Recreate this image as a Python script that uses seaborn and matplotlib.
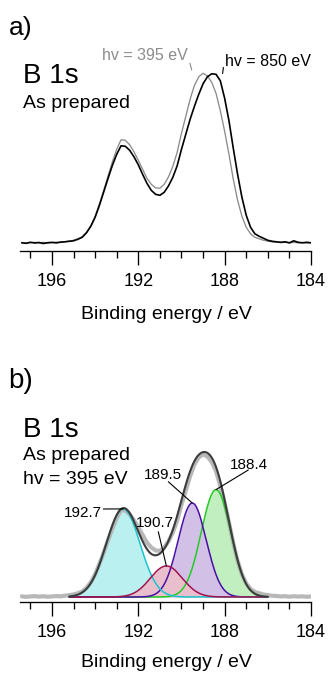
import numpy as np
import pandas as pd
import matplotlib
matplotlib.use("Agg")
import matplotlib.pyplot as plt
from matplotlib.lines import Line2D
from matplotlib.ticker import FixedLocator, MultipleLocator
import seaborn as sns

# Binding-energy grid of the measured B 1s spectra (eV)
binding_energy = [
    197.4, 197.2, 197.0, 196.8, 196.6, 196.4, 196.2, 196.0,
    195.8, 195.6, 195.4, 195.2, 195.0,
    194.8, 194.6, 194.4, 194.2, 194.0,
    193.8, 193.6, 193.4, 193.2, 193.0,
    192.8, 192.6, 192.4, 192.2, 192.0,
    191.8, 191.6, 191.4, 191.2, 191.0,
    190.8, 190.6, 190.4, 190.2, 190.0,
    189.8, 189.6, 189.4, 189.2, 189.0,
    188.8, 188.6, 188.4, 188.2, 188.0,
    187.8, 187.6, 187.4, 187.2, 187.0,
    186.8, 186.6, 186.4, 186.2, 186.0,
    185.8, 185.6, 185.4, 185.2, 185.0,
    184.8, 184.6, 184.4, 184.2, 184.0,
]

# As-prepared sample, photon energy 850 eV (arb. units)
intensity_850 = [
    0.5, 0.0, 1.0, 0.3, 0.8, -0.2, 0.6, 0.9,
    0.4, 1.2, 1.5, 2.0, 2.5,
    4.0, 6.0, 10.5, 17.0, 26.0,
    38.0, 51.5, 65.0, 78.0, 89.0,
    97.5, 97.0, 93.0, 86.5, 78.5,
    69.0, 60.0, 53.0, 49.0, 48.0,
    51.0, 57.5, 66.0, 77.5, 94.0,
    109.0, 124.0, 137.0, 149.0, 159.5,
    166.5, 169.5, 169.0, 162.5, 145.0,
    122.5, 95.0, 69.0, 46.0, 28.0,
    16.0, 9.5, 7.0, 5.0, 3.0,
    2.0, 1.5, 1.0, 1.5, 0.5,
    2.5, 1.0, 0.5, 1.0, 0.5,
]

# As-prepared sample, photon energy 395 eV (arb. units)
intensity_395 = [
    0.8, 0.2, 0.6, 1.0, 0.4, 0.9, 0.3, 0.7,
    1.1, 0.8, 1.6, 2.2, 3.0,
    4.5, 6.5, 11.0, 17.5, 27.0,
    39.5, 53.0, 67.5, 81.5, 94.0,
    103.5, 103.0, 98.5, 91.5, 83.0,
    74.0, 65.0, 59.0, 55.5, 55.0,
    59.0, 66.5, 77.0, 91.0, 110.0,
    127.0, 144.0, 158.0, 166.5, 170.0,
    167.5, 161.0, 150.0, 132.5, 112.0,
    89.0, 64.0, 43.0, 27.0, 16.0,
    9.5, 6.0, 4.5, 3.0, 2.2,
    1.5, 1.2, 0.7, 1.0, 0.4,
    0.9, 0.5, 0.8, 0.3, 0.6,
]

# Gaussian components of the hv = 395 eV fit
component_labels = ["192.7", "190.7", "189.5", "188.4"]
component_centers = [192.7, 190.7, 189.5, 188.4]
component_heights = [105.0, 37.0, 112.0, 128.0]
component_sigmas = [0.78, 0.74, 0.65, 0.68]
component_line_colors = ["#1cc4cc", "#a3124f", "#4a10a6", "#22cc22"]
component_fill_colors = ["#bbf0f0", "#e9bfcd", "#d2c0e7", "#c1efbf"]
fit_window = (186.0, 195.2)

major_ticks = [196, 192, 188, 184]

sns.set_style("ticks")
plt.rcParams["font.family"] = ["Liberation Sans", "DejaVu Sans"]
plt.rcParams["text.color"] = "black"
plt.rcParams["axes.labelcolor"] = "black"
plt.rcParams["xtick.color"] = "black"
plt.rcParams["axes.edgecolor"] = "black"

W, H = 329, 676
fig = plt.figure(figsize=(W / 100, H / 100), dpi=100)


def fig_xy(px, py):
    """Pixel position (from the top-left corner) to figure fraction."""
    return px / W, 1 - py / H


ax_a = fig.add_axes([20 / W, (H - 250.5) / H, 291 / W, 210.5 / H])
ax_b = fig.add_axes([20 / W, (H - 601.7) / H, 291 / W, 201.7 / H])

# ---- a) raw spectra at two photon energies ----
sns.lineplot(x=binding_energy, y=intensity_395, color="#8c8c8c",
             linewidth=0.95, ax=ax_a)
sns.lineplot(x=binding_energy, y=intensity_850, color="black",
             linewidth=1.2, ax=ax_a)
ax_a.set_ylim(-7.2, 203.3)

# ---- b) peak fit of the hv = 395 eV spectrum ----
fit_energy = np.linspace(fit_window[0], fit_window[1], 461)
components = [h * np.exp(-0.5 * ((fit_energy - c) / s) ** 2)
              for c, h, s in zip(component_centers, component_heights,
                                 component_sigmas)]
envelope = np.sum(components, axis=0)

sns.lineplot(x=binding_energy, y=intensity_395, color="#b8b8b8",
             linewidth=3.0, ax=ax_b)
for idx in (3, 2, 0, 1):
    ax_b.fill_between(fit_energy, 0, components[idx],
                      color=component_fill_colors[idx], linewidth=0)
    sns.lineplot(x=fit_energy, y=components[idx],
                 color=component_line_colors[idx], linewidth=1.1, ax=ax_b)
sns.lineplot(x=fit_energy, y=envelope, color="#3d3d3d", linewidth=1.5, ax=ax_b)
ax_b.set_ylim(-5.6, 234.8)

for ax, label_y in ((ax_a, -0.325), (ax_b, -0.3247)):
    ax.set_xlim(197.48, 184.0)
    ax.xaxis.set_major_locator(FixedLocator(major_ticks))
    ax.xaxis.set_minor_locator(MultipleLocator(1))
    ax.tick_params(axis="x", which="major", direction="out", length=10,
                   width=0.95, pad=6, labelsize=13, colors="black")
    ax.tick_params(axis="x", which="minor", direction="out", length=4.8,
                   width=0.95, colors="black")
    ax.set_yticks([])
    ax.set_ylabel("")
    for side in ("left", "top", "right"):
        ax.spines[side].set_visible(False)
    ax.spines["bottom"].set_linewidth(0.95)
    ax.spines["bottom"].set_color("black")
    ax.set_xlabel("Binding energy / eV", fontsize=14, color="black")
    ax.xaxis.label.set_va("baseline")
    ax.xaxis.set_label_coords(0.504, label_y)

# ---- panel titles and sample info ----
fig.text(*fig_xy(8.5, 35), "a)", fontsize=19, va="baseline")
fig.text(*fig_xy(23, 83.3), "B 1s", fontsize=20, va="baseline")
fig.text(*fig_xy(23, 108.3), "As prepared", fontsize=14, va="baseline")
fig.text(*fig_xy(101.7, 60.5), "hv = 395 eV", fontsize=11.5,
         color="#8c8c8c", va="baseline")
fig.text(*fig_xy(225, 66.5), "hv = 850 eV", fontsize=11.5, va="baseline")
fig.add_artist(Line2D([190 / W, 191.7 / W], [1 - 63.3 / H, 1 - 70 / H],
                      color="#8c8c8c", lw=0.8))
fig.add_artist(Line2D([223.4 / W, 222.6 / W], [1 - 67.5 / H, 1 - 73.5 / H],
                      color="black", lw=0.8))

fig.text(*fig_xy(8.5, 388.3), "b)", fontsize=20, va="baseline")
fig.text(*fig_xy(23, 436.7), "B 1s", fontsize=20, va="baseline")
fig.text(*fig_xy(23, 460), "As prepared", fontsize=14, va="baseline")
fig.text(*fig_xy(23, 484), "hv = 395 eV", fontsize=14, va="baseline")

# ---- component position labels with leader lines ----
label_text_pos = [(101.5, 516.7, "right"), (155, 527.3, "center"),
                  (163.3, 479.3, "center"), (249, 469, "center")]
leader_start = [(103.3, 509), (158.3, 531.7), (168.3, 481.7), (248.3, 470)]
for lab, (tx, ty, ha), (lx, ly), c, h in zip(
        component_labels, label_text_pos, leader_start,
        component_centers, component_heights):
    fig.text(*fig_xy(tx, ty), lab, fontsize=11, ha=ha, va="baseline")
    ax_b.annotate("", xy=(c, h), xycoords="data",
                  xytext=(lx, H - ly), textcoords="figure pixels",
                  arrowprops=dict(arrowstyle="-", lw=0.8, color="black",
                                  shrinkA=0, shrinkB=0))

fig.savefig("out.png", dpi=100)
